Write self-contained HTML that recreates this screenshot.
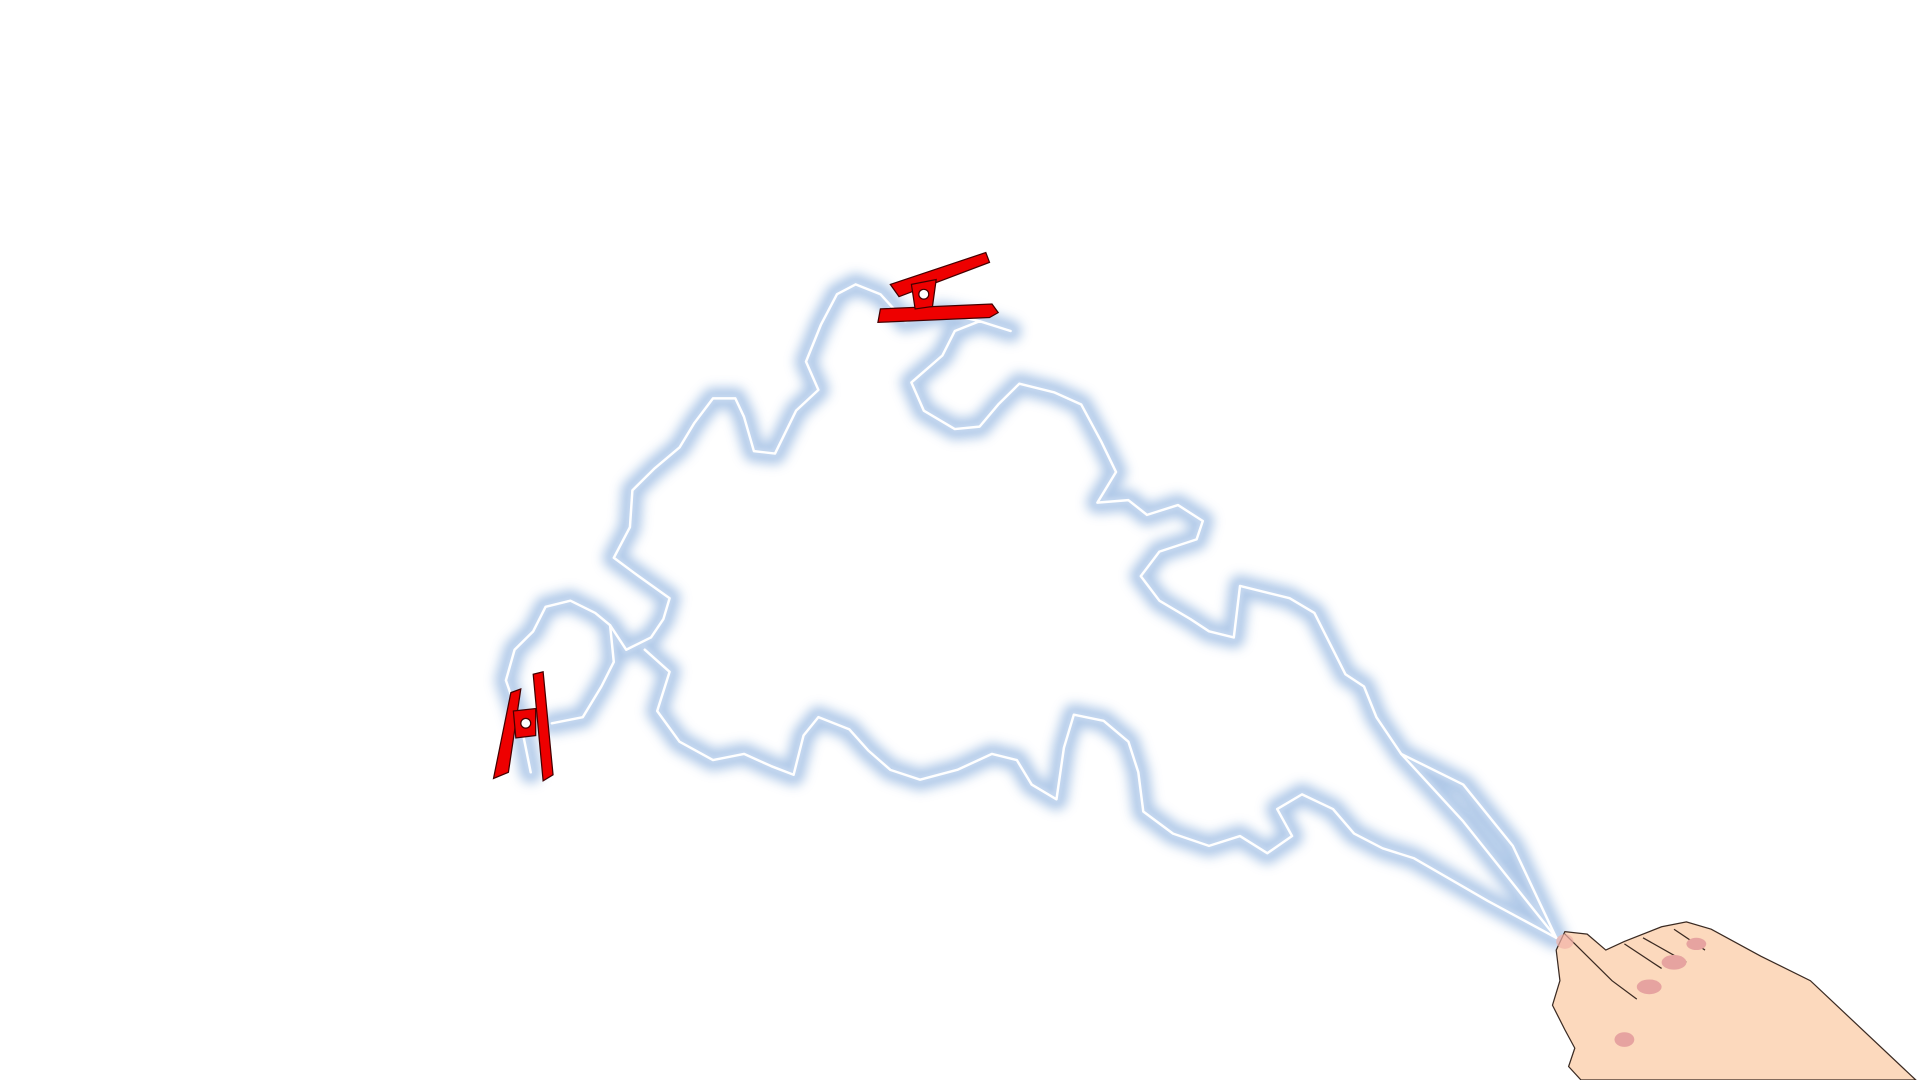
<!DOCTYPE html>
<html><head><meta charset="utf-8"><style>
html,body{margin:0;padding:0;background:#fff;width:1922px;height:1080px;overflow:hidden}
svg{display:block}
</style></head><body>
<svg width="1922" height="1080" viewBox="0 0 1550 881" preserveAspectRatio="none">
<defs>
<filter id="b" x="-10%" y="-10%" width="120%" height="120%"><feGaussianBlur stdDeviation="4.5"/></filter>
<filter id="b2" x="-10%" y="-10%" width="120%" height="120%"><feGaussianBlur stdDeviation="1.5"/></filter>
</defs>
<g fill="none" stroke-linejoin="round" stroke-linecap="round">
<g id="ropepaths">
<path d="M1255,765 L1180,670 L1130,615 L1110,585 L1100,560 L1085,550 L1070,520 L1060,500 L1040,488 L1000,478 L995,520 L975,515 L960,505 L935,490 L920,470 L935,450 L965,440 L970,425 L950,412 L925,420 L910,408 L885,410 L900,385 L888,360 L872,330 L850,320 L822,313 L805,330 L790,348 L770,350 L745,335 L735,312 L760,290 L770,270 L790,262 L815,270 M790,262 L760,255 L730,262 L710,240 L690,232 L675,240 L662,265 L650,295 L660,318 L642,335 L625,370 L608,368 L600,340 L593,325 L575,325 L560,345 L548,365 L528,382 L510,400 L508,430 L495,455 L515,470 L540,488 L535,505 L525,520 L505,530 L492,510 L480,500 L460,490 L440,495 L430,515 L415,530 L408,555 L420,590 L428,630"/>
<path d="M492,510 L495,540 L485,560 L470,585 L445,590 M520,530 L540,548 L530,580 L548,605 L575,620 L600,615 L622,625 L640,632 L648,600 L660,585 L685,595 L700,612 L718,628 L742,636 L772,628 L800,615 L820,620 L832,640 L852,652 L858,610 L866,583 L890,588 L910,605 L918,630 L922,662 L946,680 L975,690 L1000,682 L1022,696 L1042,682 L1030,660 L1050,648 L1075,660 L1092,680 L1115,692 L1140,700 L1200,735 L1255,765"/>
<path d="M1130,615 L1180,640 L1220,690 L1255,765"/>
</g>
<use href="#ropepaths" stroke="#a9c4e6" stroke-width="18" filter="url(#b)" opacity="0.9"/>
<use href="#ropepaths" stroke="#c4d7ef" stroke-width="7" filter="url(#b2)"/>
<use href="#ropepaths" stroke="#ffffff" stroke-width="2"/>
</g>
<g fill="#e00" stroke="#400" stroke-width="1">
<polygon points="718,232 795,206 798,214 725,242"/>
<polygon points="710,252 800,248 805,255 798,259 708,263"/>
<polygon points="735,232 755,228 752,250 738,252"/>
<circle cx="745" cy="240" r="4" fill="#fff"/>
</g>
<g fill="#e00" stroke="#400" stroke-width="1">
<polygon points="430,550 438,548 446,632 438,637"/>
<polygon points="412,565 420,562 410,630 398,635"/>
<polygon points="414,580 432,578 432,600 416,602"/>
<circle cx="424" cy="590" r="4" fill="#fff"/>
</g>
<g stroke="#3a2a22" stroke-width="1">
<path d="M1545,881 L1460,800 L1420,780 L1380,758 L1360,752 L1340,756 L1310,768 L1295,775 L1280,762 L1262,760 L1255,775 L1258,800 L1252,820 L1262,840 L1270,855 L1265,870 L1275,881 Z" fill="#fcd9bd"/>
<path d="M1262,762 L1300,800 L1320,815" fill="none"/>
<path d="M1310,770 L1340,790 M1325,765 L1360,785 M1350,758 L1375,775" fill="none"/>
<ellipse cx="1330" cy="805" rx="10" ry="6" fill="#e6a3a0" stroke="none"/>
<ellipse cx="1350" cy="785" rx="10" ry="6" fill="#e6a3a0" stroke="none"/>
<ellipse cx="1368" cy="770" rx="8" ry="5" fill="#e6a3a0" stroke="none"/>
<ellipse cx="1310" cy="848" rx="8" ry="6" fill="#e6a3a0" stroke="none"/>
<ellipse cx="1262" cy="768" rx="7" ry="6" fill="#f2b2a8" stroke="none" opacity="0.7"/>
</g>
</svg>
</body></html>
